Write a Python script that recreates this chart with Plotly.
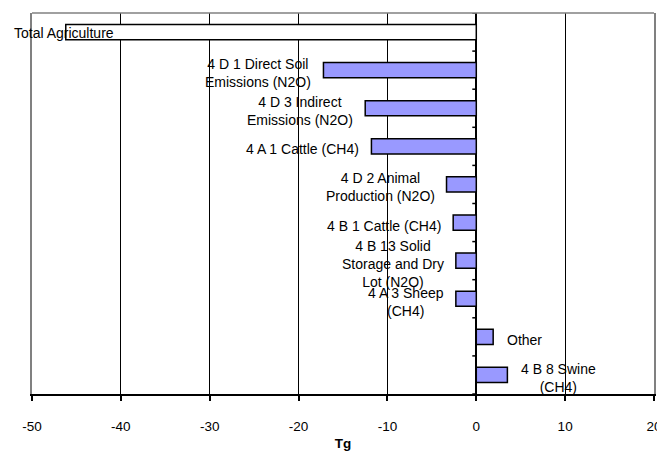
import plotly.graph_objects as go

categories = [
    "Total Agriculture",
    "4 D 1 Direct Soil<br>Emissions (N2O)",
    "4 D 3 Indirect<br>Emissions (N2O)",
    "4 A 1 Cattle (CH4)",
    "4 D 2 Animal<br>Production (N2O)",
    "4 B 1 Cattle (CH4)",
    "4 B 13 Solid<br>Storage and Dry<br>Lot (N2O)",
    "4 A 3 Sheep<br>(CH4)",
    "Other",
    "4 B 8 Swine<br>(CH4)",
]
values = [-46.2, -17.2, -12.5, -11.8, -3.35, -2.6, -2.3, -2.3, 1.9, 3.5]
x_ticks = [-50, -40, -30, -20, -10, 0, 10, 20]

ypos = list(range(len(categories)))
fills = ["#FFFFFF"] + ["#9999FF"] * (len(categories) - 1)

FONT = "Arial, Liberation Sans, sans-serif"
LBL = 14

fig = go.Figure()
fig.add_trace(go.Bar(
    x=values, y=ypos, orientation="h",
    marker=dict(color=fills, line=dict(color="#000000", width=1.5)),
    width=0.4, hoverinfo="skip",
))

annotations = []
for i, (cat, v) in enumerate(zip(categories, values)):
    if i == 0:
        annotations.append(dict(x=x_ticks[0], y=i, xref="x", yref="y", text=cat,
                                showarrow=False, xanchor="left", xshift=-20, yshift=-1,
                                font=dict(family=FONT, size=LBL, color="#000")))
    elif v < 0:
        annotations.append(dict(x=v, y=i, xref="x", yref="y", text=cat,
                                showarrow=False, xanchor="right", xshift=-10, yshift=-3,
                                align="center",
                                font=dict(family=FONT, size=LBL, color="#000")))
    else:
        annotations.append(dict(x=v, y=i, xref="x", yref="y", text=cat,
                                showarrow=False, xanchor="left", xshift=12, yshift=-3,
                                align="center",
                                font=dict(family=FONT, size=LBL, color="#000")))

shapes = []
for k in range(len(categories) + 1):
    shapes.append(dict(type="line", xref="x", yref="y", xsizemode="pixel", xanchor=0,
                       x0=-4, x1=0, y0=k - 0.5, y1=k - 0.5,
                       line=dict(color="#000", width=1.5)))
shapes.append(dict(type="line", xref="paper", yref="paper", x0=0, x1=1, y0=1, y1=1,
                   line=dict(color="#808080", width=1.5)))

# page body has an 8px default margin, so the figure is sized to fit the window
fig.update_layout(
    width=657, height=443,
    margin=dict(l=24, r=11, t=5, b=57, autoexpand=False),
    paper_bgcolor="white", plot_bgcolor="white",
    showlegend=False,
    bargap=0.6,
    annotations=annotations,
    shapes=shapes,
    font=dict(family=FONT, size=13, color="#000"),
    xaxis=dict(
        range=[x_ticks[0], x_ticks[-1]],
        tickvals=x_ticks, ticktext=[str(t) for t in x_ticks],
        automargin=False,
        showgrid=True, gridcolor="#000", gridwidth=1,
        zeroline=True, zerolinecolor="#000", zerolinewidth=2,
        showline=True, linecolor="#000", linewidth=2,
        ticks="outside", ticklen=5, tickcolor="#000", tickwidth=1.5,
        ticklabelstandoff=14,
        tickfont=dict(family=FONT, size=13.5, color="#000"),
        title=dict(text="<b>Tg</b>", standoff=6, font=dict(family=FONT, size=13.5, color="#000")),
    ),
    yaxis=dict(
        range=[len(categories) - 0.5, -0.5],
        automargin=False,
        showticklabels=False, showgrid=False, zeroline=False,
        showline=True, linecolor="#808080", linewidth=1.5, mirror=True,
        ticks="",
    ),
)

fig.write_html("out.html")
